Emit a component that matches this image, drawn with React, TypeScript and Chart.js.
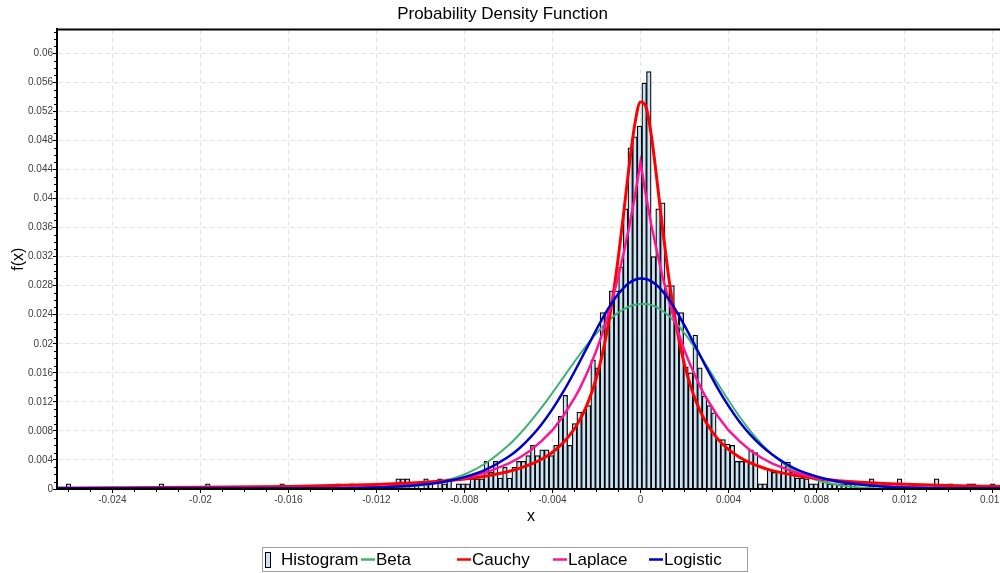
import React, { useEffect, useRef } from 'react';
import { Chart, registerables } from 'chart.js';

Chart.register(...registerables);

const FONT = "'Liberation Sans', Arial, sans-serif";

// Histogram: 200 equal bins starting at binStart
const binStart = -0.0261;
const binWidth = 0.000211;
const histHeights = [
  0.0007, 0, 0, 0, 0, 0, 0, 0, 0, 0,
  0, 0, 0, 0, 0, 0, 0, 0, 0, 0,
  0.0007, 0, 0, 0, 0, 0, 0, 0, 0, 0,
  0.0007, 0, 0, 0, 0, 0, 0, 0, 0, 0,
  0, 0, 0, 0, 0, 0, 0.0007, 0, 0, 0,
  0, 0, 0, 0, 0, 0, 0, 0, 0.0007, 0,
  0, 0.0007, 0, 0, 0, 0, 0, 0, 0, 0,
  0, 0.0014, 0.0014, 0.0014, 0, 0.0007, 0, 0.0014, 0.0007, 0,
  0.0014, 0.0007, 0.0014, 0, 0.0007, 0.0007, 0.0007, 0.0014, 0.0014, 0.0014,
  0.0038, 0.0023, 0.0038, 0.0015, 0.003, 0.0015, 0.003, 0.0038, 0.0038, 0.0046,
  0.006, 0.0046, 0.0054, 0.0054, 0.0046, 0.006, 0.010, 0.0129, 0.006, 0.009,
  0.0106, 0.0106, 0.0115, 0.0178, 0.0167, 0.0243, 0.0243, 0.0273, 0.0273, 0.0306,
  0.0386, 0.047, 0.0485, 0.050, 0.0559, 0.0575, 0.032, 0.0386, 0.0394, 0.028,
  0.028, 0.0243, 0.0243, 0.0168, 0.016, 0.0212, 0.0167, 0.0128, 0.0115, 0.0105,
  0.0068, 0.0068, 0.0062, 0.006, 0.0038, 0.0038, 0.0038, 0.0054, 0.005, 0.0007,
  0.0007, 0.0027, 0.0023, 0.0024, 0.0037, 0.0037, 0.0023, 0.0015, 0.0015, 0.0014,
  0.0007, 0.0007, 0.0014, 0.0014, 0.0007, 0.0007, 0.0007, 0.0007, 0.0007, 0.0007,
  0, 0, 0, 0.0014, 0, 0, 0, 0, 0, 0.0014,
  0, 0, 0, 0, 0, 0, 0, 0.0014, 0, 0,
  0.0007, 0, 0, 0, 0.0007, 0.0007, 0, 0, 0, 0.0007,
];

// Fitted curves sampled at curveX
const curveX = [
  -0.0265, -0.024, -0.02, -0.016, -0.014, -0.012, -0.011, -0.01, -0.009, -0.008,
  -0.007, -0.006, -0.0055, -0.005, -0.0045, -0.004, -0.0035, -0.003, -0.00275, -0.0025,
  -0.00225, -0.002, -0.00175, -0.0015, -0.00125, -0.001, -0.00075, -0.0005, -0.00025, 0,
  0.00025, 0.0005, 0.00075, 0.001, 0.00125, 0.0015, 0.00175, 0.002, 0.00225, 0.0025,
  0.00275, 0.003, 0.0035, 0.004, 0.0045, 0.005, 0.0055, 0.006, 0.007, 0.008,
  0.009, 0.01, 0.011, 0.012, 0.014, 0.016, 0.0166,
];
const betaY = [
  0, 0, 0, 0.000001, 0.000012, 0.000088, 0.00022, 0.00049, 0.00103, 0.002,
  0.00361, 0.00601, 0.00754, 0.00928, 0.0112, 0.01325, 0.01538, 0.01752, 0.01856, 0.01957,
  0.02053, 0.02144, 0.02228, 0.02304, 0.02372, 0.0243, 0.02477, 0.02513, 0.02537, 0.02549,
  0.02548, 0.02532, 0.02501, 0.02455, 0.02396, 0.02324, 0.0224, 0.02146, 0.02043, 0.01934,
  0.01819, 0.01701, 0.0146, 0.01223, 0.00999, 0.00797, 0.00621, 0.00472, 0.00253, 0.00123,
  0.00054, 0.00022, 0.00008, 0.00003, 0, 0, 0,
];
const cauchyY = [
  0.00013, 0.00016, 0.00023, 0.00036, 0.00047, 0.00063, 0.00075, 0.0009, 0.00111, 0.00139,
  0.0018, 0.00241, 0.00284, 0.00338, 0.0041, 0.00507, 0.0064, 0.0083, 0.00956, 0.0111,
  0.013, 0.01536, 0.01831, 0.02199, 0.02655, 0.03205, 0.03834, 0.04484, 0.05035, 0.0533,
  0.05263, 0.04858, 0.04254, 0.03601, 0.02996, 0.0248, 0.02057, 0.01717, 0.01445, 0.01227,
  0.01051, 0.00908, 0.00694, 0.00545, 0.00438, 0.00359, 0.003, 0.00253, 0.00188, 0.00145,
  0.00115, 0.00093, 0.00077, 0.00065, 0.00048, 0.00037, 0.00034,
];
const laplaceY = [
  0, 0, 0.00001, 0.00005, 0.0001, 0.00027, 0.00041, 0.00063, 0.00096, 0.0015,
  0.0023, 0.0035, 0.0043, 0.0053, 0.0066, 0.0081, 0.0101, 0.0125, 0.0139, 0.0155,
  0.0172, 0.0191, 0.0213, 0.0237, 0.0264, 0.0293, 0.0327, 0.0363, 0.0404, 0.045,
  0.0404, 0.0363, 0.0327, 0.0293, 0.0264, 0.0237, 0.0213, 0.0191, 0.0172, 0.0155,
  0.0139, 0.0125, 0.0101, 0.0081, 0.0066, 0.0053, 0.0043, 0.0035, 0.0023, 0.0015,
  0.00096, 0.00063, 0.00041, 0.00027, 0.0001, 0.00005, 0.00004,
];
const logisticY = [
  0.0001, 0.0001, 0.0001, 0.0001, 0.00011, 0.0002, 0.00034, 0.00058, 0.00097, 0.00163,
  0.0027, 0.00443, 0.00562, 0.0071, 0.00889, 0.011, 0.01344, 0.01615, 0.0176, 0.01905,
  0.02051, 0.02197, 0.02337, 0.02467, 0.02586, 0.02689, 0.02775, 0.0284, 0.02882, 0.029,
  0.02892, 0.0286, 0.02804, 0.02726, 0.02629, 0.02516, 0.02389, 0.02253, 0.0211, 0.01964,
  0.01817, 0.01671, 0.01394, 0.01144, 0.00927, 0.00745, 0.00595, 0.00473, 0.00284, 0.00172,
  0.00103, 0.00061, 0.00036, 0.00021, 0.00012, 0.0001, 0.0001,
];

const xTicks = [-0.024, -0.02, -0.016, -0.012, -0.008, -0.004, 0, 0.004, 0.008, 0.012, 0.016];
const yTicks = [0, 0.004, 0.008, 0.012, 0.016, 0.02, 0.024, 0.028, 0.032, 0.036, 0.04, 0.044, 0.048, 0.052, 0.056, 0.06];
const xMin = -0.02652;
const xMax = 0.01657;
const yMin = 0;
const yMax = 0.0633;

const seriesNames = ['Histogram', 'Beta', 'Cauchy', 'Laplace', 'Logistic'];
const seriesColors = ['#c9e4f7', '#3cb371', '#ff0000', '#ff1493', '#0000cd'];
const seriesWidths = [1.25, 2, 3, 2.5, 2.5];

const fmt = (v: number) => String(parseFloat(Number(v).toFixed(3)));

const framePlugin = {
  id: 'frame',
  afterDraw(chart: any) {
    const { ctx, chartArea: a, scales } = chart;
    const xs = scales.x;
    const ys = scales.y;
    ctx.save();
    // top and right frame
    ctx.strokeStyle = '#000';
    ctx.lineWidth = 2;
    ctx.beginPath();
    ctx.moveTo(a.left, a.top);
    ctx.lineTo(a.right, a.top);
    ctx.lineTo(a.right, a.bottom);
    ctx.stroke();
    // minor ticks every 0.001
    ctx.lineWidth = 1;
    ctx.beginPath();
    for (let k = -26; k <= 16; k++) {
      if (k % 4 === 0) continue;
      const px = Math.round(xs.getPixelForValue(k / 1000)) + 0.5;
      ctx.moveTo(px, a.bottom + 1);
      ctx.lineTo(px, a.bottom + 3);
    }
    for (let k = 1; k <= 63; k++) {
      if (k % 4 === 0) continue;
      const py = Math.round(ys.getPixelForValue(k / 1000)) + 0.5;
      ctx.moveTo(a.left - 3, py);
      ctx.lineTo(a.left - 1, py);
    }
    ctx.stroke();

    // legend
    const lx = 262, ly = 547, lw = 486, lh = 25;
    ctx.fillStyle = '#fff';
    ctx.fillRect(lx, ly, lw, lh);
    ctx.strokeStyle = '#a0a0a0';
    ctx.lineWidth = 1;
    ctx.strokeRect(lx + 0.5, ly + 0.5, lw - 1, lh - 1);
    const cy = 560;
    ctx.font = `17px ${FONT}`;
    ctx.textBaseline = 'middle';
    ctx.textAlign = 'left';
    seriesNames.forEach((name, i) => {
      const x0 = lx + 3 + i * 96;
      if (i === 0) {
        ctx.fillStyle = seriesColors[0];
        ctx.fillRect(x0 + 0.5, 552.5, 5, 15);
        ctx.strokeStyle = '#000';
        ctx.lineWidth = 1;
        ctx.strokeRect(x0 + 0.5, 552.5, 5, 15);
      } else {
        ctx.strokeStyle = seriesColors[i];
        ctx.lineWidth = 2.5;
        ctx.beginPath();
        ctx.moveTo(x0, cy - 0.5);
        ctx.lineTo(x0 + 14, cy - 0.5);
        ctx.stroke();
      }
      ctx.fillStyle = '#000';
      ctx.fillText(name, i === 0 ? x0 + 16 : x0 + 15, cy);
    });
    ctx.restore();
  },
};

export default function App() {
  const ref = useRef<HTMLCanvasElement | null>(null);

  useEffect(() => {
    if (!ref.current) return;
    Chart.defaults.font.family = FONT;
    const lineDs = (i: number, ys: number[], order: number, smooth: boolean) => ({
      type: 'line' as const,
      label: seriesNames[i],
      data: curveX.map((x, k) => ({ x, y: ys[k] })),
      borderColor: seriesColors[i],
      backgroundColor: seriesColors[i],
      borderWidth: seriesWidths[i],
      pointRadius: 0,
      fill: false,
      tension: 0,
      cubicInterpolationMode: smooth ? ('monotone' as const) : ('default' as const),
      order,
    });
    const chart = new Chart(ref.current, {
      type: 'bar',
      data: {
        datasets: [
          {
            type: 'bar',
            label: seriesNames[0],
            data: histHeights.map((h, i) => ({ x: binStart + (i + 0.5) * binWidth, y: h })),
            backgroundColor: seriesColors[0],
            borderColor: '#000',
            borderWidth: seriesWidths[0],
            barPercentage: 1,
            categoryPercentage: 1,
            order: 10,
          } as any,
          lineDs(1, betaY, 4, true),
          lineDs(2, cauchyY, 3, true),
          lineDs(3, laplaceY, 2, false),
          lineDs(4, logisticY, 1, true),
        ],
      },
      options: {
        animation: false,
        responsive: false,
        devicePixelRatio: 1,
        layout: { padding: { left: 0, right: 5, top: 0, bottom: 42 } },
        plugins: {
          legend: { display: false },
          tooltip: { enabled: false },
          title: {
            display: true,
            text: 'Probability Density Function',
            color: '#000',
            font: { family: FONT, size: 17, weight: 'normal' },
            padding: { top: 4, bottom: 5 },
          },
        },
        scales: {
          x: {
            type: 'linear',
            min: xMin,
            max: xMax,
            offset: false,
            grid: { offset: false, color: '#e2e2e2', tickColor: '#000', tickLength: 4, tickWidth: 1 },
            border: { color: '#000', width: 2, dash: [5, 3], z: 1 },
            ticks: {
              font: { family: FONT, size: 10 },
              color: '#404040',
              padding: 1,
              autoSkip: false,
              maxRotation: 0,
              callback: (v: any) => fmt(v),
            },
            afterBuildTicks: (s: any) => {
              s.ticks = xTicks.map((v) => ({ value: v }));
            },
            afterFit: (s: any) => {
              s.height = 42;
            },
            title: {
              display: true,
              text: 'x',
              color: '#000',
              font: { family: FONT, size: 16 },
              padding: { top: 0, bottom: 5 },
            },
          },
          y: {
            type: 'linear',
            min: yMin,
            max: yMax,
            grid: { color: '#e2e2e2', tickColor: '#000', tickLength: 4, tickWidth: 1 },
            border: { color: '#000', width: 2, dash: [5, 3], z: 1 },
            ticks: {
              font: { family: FONT, size: 10 },
              color: '#404040',
              padding: 0,
              autoSkip: false,
              callback: (v: any) => fmt(v),
            },
            afterBuildTicks: (s: any) => {
              s.ticks = yTicks.map((v) => ({ value: v }));
            },
            afterFit: (s: any) => {
              s.width = 57;
            },
            title: {
              display: true,
              text: 'f(x)',
              color: '#000',
              font: { family: FONT, size: 16 },
              padding: { top: 9, bottom: 0 },
            },
          },
        },
      } as any,
      plugins: [framePlugin],
    });
    return () => chart.destroy();
  }, []);

  return (
    <div
      style={{
        position: 'absolute',
        left: 0,
        top: 0,
        width: 1000,
        height: 573,
        overflow: 'hidden',
        background: '#fff',
      }}
    >
      <canvas ref={ref} width={1010} height={573} style={{ display: 'block', width: 1010, height: 573 }} />
    </div>
  );
}
